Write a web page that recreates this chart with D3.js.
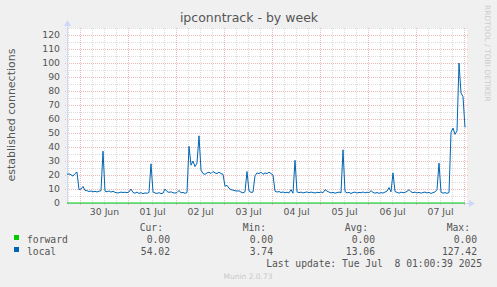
<!DOCTYPE html>
<html>
<head>
<meta charset="utf-8">
<script src="https://cdn.jsdelivr.net/npm/d3@7"></script>
<style>
  body { margin: 0; background: #f0f0f0; }
  svg { display: block; font-family: "DejaVu Sans", sans-serif; }
  .mono { font-family: "DejaVu Sans Mono", monospace; }
</style>
</head>
<body>
<svg id="chart" width="497" height="287"></svg>
<script>
// hourly samples of "local" established connections, starting Jun 29 17:30 UTC
const startTime = Date.UTC(2025, 5, 29, 17, 30);
const localValues = [
  20.5, 20.8, 20.2, 19.2, 21.0, 22.0, 9.5, 10.0, 11.8, 9.0,
  8.8, 8.2, 8.6, 8.0, 8.3, 7.9, 8.4, 8.8, 37.0, 8.5,
  8.0, 8.6, 7.8, 8.4, 7.6, 7.2, 7.3, 7.8, 7.5, 7.7,
  7.4, 7.9, 10.0, 7.5, 7.0, 7.8, 6.8, 7.4, 6.6, 7.2,
  6.9, 7.6, 28.0, 7.8, 7.2, 6.8, 7.4, 6.7, 7.0, 10.0,
  8.2, 7.6, 8.0, 7.3, 7.1, 7.4, 9.0, 7.2, 7.6, 6.9,
  7.5, 40.5, 27.0, 30.0, 26.0, 28.5, 48.0, 23.5, 21.0, 20.5,
  21.5, 22.0, 21.0, 22.5, 21.5, 21.0, 22.0, 21.0, 20.5, 12.0,
  12.6, 10.5, 9.5, 9.2, 8.8, 8.5, 8.7, 7.8, 7.2, 8.0,
  22.5, 8.5, 7.6, 7.8, 19.5, 21.5, 21.0, 22.0, 20.5, 21.5,
  21.0, 22.0, 21.0, 20.0, 8.5, 7.8, 8.2, 7.5, 7.9, 7.3,
  7.7, 7.2, 9.5, 7.0, 30.5, 8.0, 7.4, 7.8, 7.2, 7.6,
  7.9, 7.3, 7.8, 7.5, 7.1, 7.7, 7.4, 7.9, 7.3, 9.5,
  8.5, 7.8, 7.2, 7.6, 7.0, 7.4, 7.8, 7.3, 38.0, 8.2,
  7.2, 7.6, 6.8, 7.5, 7.8, 7.1, 7.6, 7.3, 7.9, 7.2,
  7.7, 7.4, 8.8, 7.6, 7.0, 7.5, 6.9, 7.4, 7.1, 7.8,
  8.5, 11.0, 8.0, 21.5, 8.2, 7.6, 7.0, 7.8, 7.3, 7.6,
  8.3, 9.5, 8.0, 7.4, 7.8, 7.2, 7.6, 7.0, 7.5, 7.8,
  7.2, 7.6, 6.8, 7.4, 7.9, 9.5, 28.5, 7.8, 7.0, 7.4,
  6.9, 7.5, 50.5, 53.5, 49.0, 51.5, 100.0, 78.5, 76.0, 54.0
];
const forwardValues = [0, 0];   // flat at zero over the whole range

const legendNames  = ["forward", "local"];
const legendColors = ["#00cc00", "#0066b3"];
const statHeaders  = ["Cur:", "Min:", "Avg:", "Max:"];
const statValues   = [
  ["0.00", "0.00", "0.00", "0.00"],
  ["54.02", "3.74", "13.06", "127.42"]
];
const yTicks = d3.range(0, 121, 10);

const svg = d3.select("#chart");
const plot = { left: 67, right: 467, top: 28, bottom: 203 };
const endTime = startTime + 200 * 3600 * 1000;

const x = d3.scaleUtc().domain([startTime, endTime]).range([plot.left, plot.right]);
const y = d3.scaleLinear().domain([0, 125]).range([plot.bottom, plot.top]);

svg.append("rect").attr("width", 497).attr("height", 287).attr("fill", "#f0f0f0");
svg.append("rect")
   .attr("x", plot.left).attr("y", plot.top)
   .attr("width", plot.right - plot.left).attr("height", plot.bottom - plot.top)
   .attr("fill", "#ffffff");

// grid: minor every 5 / 6h, major every 10 / midnight
const grid = svg.append("g").attr("shape-rendering", "crispEdges");
d3.range(5, 126, 5).forEach(v => {
  grid.append("line")
      .attr("x1", plot.left - 2).attr("x2", plot.right + 2)
      .attr("y1", Math.round(y(v)) + 0.5).attr("y2", Math.round(y(v)) + 0.5)
      .attr("stroke", v % 10 == 0 ? "#efb9b9" : "#dcdcdc")
      .attr("stroke-dasharray", "1,1");
});
d3.utcHour.every(6).range(new Date(startTime), new Date(endTime)).forEach(t => {
  const major = t.getUTCHours() == 0;
  grid.append("line")
      .attr("x1", Math.round(x(t)) + 0.5).attr("x2", Math.round(x(t)) + 0.5)
      .attr("y1", plot.top).attr("y2", plot.bottom + 2)
      .attr("stroke", major ? "#efb9b9" : "#dcdcdc")
      .attr("stroke-dasharray", "1,1");
});

// axes lines + arrows
svg.append("line")
   .attr("x1", plot.left + 0.5).attr("x2", plot.left + 0.5)
   .attr("y1", plot.top - 4).attr("y2", plot.bottom)
   .attr("stroke", "#cfd6f8");
svg.append("line")
   .attr("x1", plot.left).attr("x2", plot.right + 3)
   .attr("y1", plot.bottom + 0.5).attr("y2", plot.bottom + 0.5)
   .attr("stroke", "#cfd6f8");
svg.append("path")
   .attr("d", `M${plot.left - 3},${plot.top - 2} L${plot.left + 0.5},${plot.top - 8} L${plot.left + 4},${plot.top - 2} Z`)
   .attr("fill", "#cfd6f8");
svg.append("path")
   .attr("d", `M${plot.right + 2},${plot.bottom - 3} L${plot.right + 8},${plot.bottom + 0.5} L${plot.right + 2},${plot.bottom + 4} Z`)
   .attr("fill", "#cfd6f8");

// y axis labels
const yAxis = svg.append("g")
   .attr("transform", `translate(${plot.left},0)`)
   .call(d3.axisLeft(y).tickValues(yTicks).tickSize(0).tickPadding(7));
yAxis.select(".domain").remove();
yAxis.selectAll("text")
     .attr("fill", "#555").style("font-size", "9.3px")
     .style("font-family", "DejaVu Sans");

// x axis labels at noon
const noons = d3.utcDay.range(new Date(Date.UTC(2025, 5, 30)), new Date(Date.UTC(2025, 6, 8)))
                .map(d => d3.utcHour.offset(d, 12));
const xAxis = svg.append("g")
   .attr("transform", `translate(0,${plot.bottom})`)
   .call(d3.axisBottom(x).tickValues(noons).tickFormat(d3.utcFormat("%d %b")).tickSize(0).tickPadding(5));
xAxis.select(".domain").remove();
xAxis.selectAll("text")
     .attr("fill", "#555").style("font-size", "9.3px")
     .style("font-family", "DejaVu Sans");

// series
const line = d3.line().x(d => x(d.t)).y(d => y(d.v));
const forwardData = [{ t: startTime, v: forwardValues[0] }, { t: startTime + 199 * 3600 * 1000, v: forwardValues[1] }];
const localData = localValues.map((v, i) => ({ t: startTime + i * 3600 * 1000, v: v }));

svg.append("path").datum(forwardData)
   .attr("d", line).attr("fill", "none")
   .attr("stroke", legendColors[0]).attr("stroke-width", 1);
svg.append("path").datum(localData)
   .attr("d", line).attr("fill", "none")
   .attr("stroke", legendColors[1]).attr("stroke-width", 1);

// titles
svg.append("text")
   .attr("x", 249).attr("y", 22).attr("text-anchor", "middle")
   .attr("fill", "#555").style("font-size", "12.5px")
   .text("ipconntrack - by week");
svg.append("text")
   .attr("transform", "translate(15,115) rotate(-90)")
   .attr("text-anchor", "middle")
   .attr("fill", "#555").style("font-size", "11px")
   .text("established connections");
svg.append("text")
   .attr("transform", "translate(485,5) rotate(90)")
   .attr("fill", "#cccccc").style("font-size", "7.5px")
   .text("RRDTOOL / TOBI OETIKER");

// legend
const colEnds = [163, 266, 368, 470];
const leg = svg.append("g").attr("class", "mono").style("font-size", "9.7px").attr("fill", "#555");
statHeaders.forEach((h, i) => {
  leg.append("text").attr("x", colEnds[i]).attr("y", 231).attr("text-anchor", "end").text(h);
});
legendNames.forEach((name, r) => {
  const yy = 243 + r * 12;
  leg.append("rect").attr("x", 14).attr("y", yy - 8).attr("width", 5).attr("height", 5)
     .attr("fill", legendColors[r]);
  leg.append("text").attr("x", 27).attr("y", yy).text(name);
  statValues[r].forEach((v, i) => {
    leg.append("text").attr("x", colEnds[i] + 7).attr("y", yy).attr("text-anchor", "end").text(v);
  });
});
leg.append("text").attr("x", 482).attr("y", 267).attr("text-anchor", "end")
   .style("white-space", "pre").attr("xml:space", "preserve")
   .text("Last update: Tue Jul  8 01:00:39 2025");

svg.append("text")
   .attr("x", 248).attr("y", 279).attr("text-anchor", "middle")
   .attr("fill", "#c8c8c8").style("font-size", "7.5px")
   .text("Munin 2.0.73");
</script>
</body>
</html>
